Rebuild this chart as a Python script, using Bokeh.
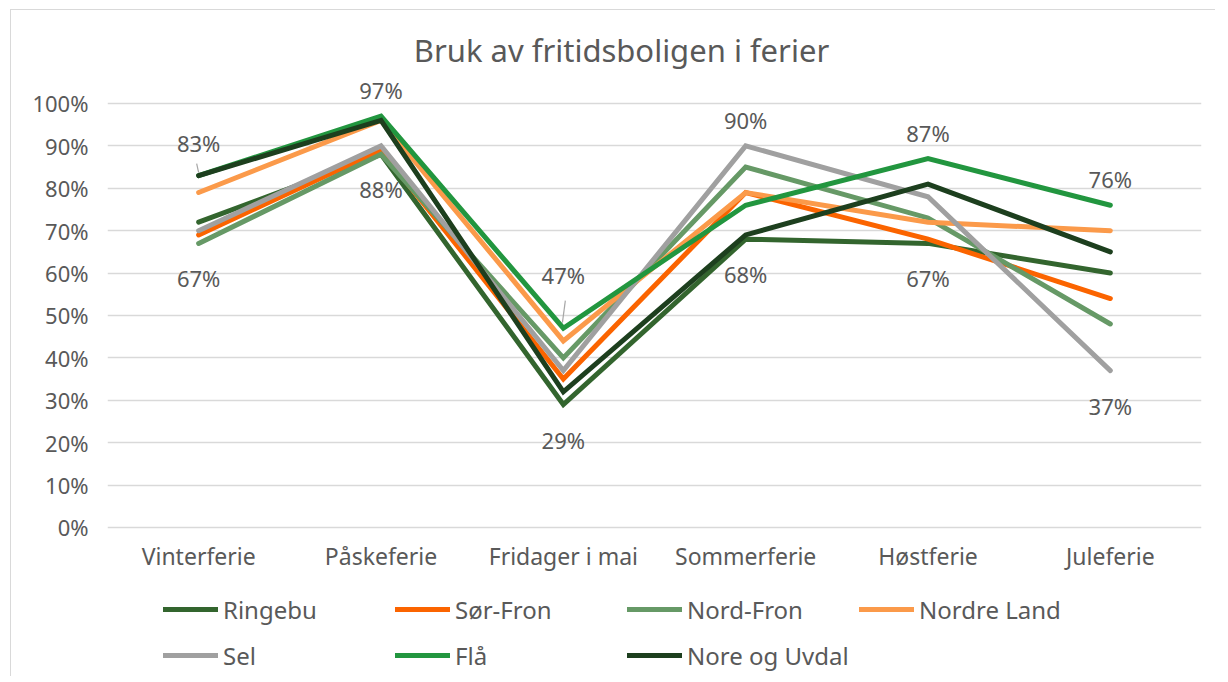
from bokeh.plotting import figure
from bokeh.models import Legend, LegendItem, NumeralTickFormatter, FixedTicker, Range1d, ColumnDataSource
from bokeh.core.properties import value
from bokeh.embed import file_html
from bokeh.resources import INLINE

categories = ["Vinterferie", "Påskeferie", "Fridager i mai", "Sommerferie", "Høstferie", "Juleferie"]

ringebu = [72, 88, 29, 68, 67, 60]
sor_fron = [69, 89, 35, 79, 68, 54]
nord_fron = [67, 88, 40, 85, 73, 48]
nordre_land = [79, 96, 44, 79, 72, 70]
sel = [70, 90, 37, 90, 78, 37]
fla = [83, 97, 47, 76, 87, 76]
nore_og_uvdal = [83, 96, 32, 69, 81, 65]

series_names = ["Ringebu", "Sør-Fron", "Nord-Fron", "Nordre Land", "Sel", "Flå", "Nore og Uvdal"]
series_values = [ringebu, sor_fron, nord_fron, nordre_land, sel, fla, nore_og_uvdal]
series_colors = ["#33652e", "#fb6400", "#669966", "#fb9a4a", "#a0a0a0", "#22963f", "#1d3f1e"]
title_text = "Bruk av fritidsboligen i ferier"

FONT = "Noto Sans"
TXT = "#595959"

# the frame covers the whole chart area (title above 100 %, category labels and
# legend below 0 %) so that nothing is clipped; grid and ticks only span 0..100 %
p = figure(width=1205, height=667, output_backend="svg", toolbar_location=None,
           x_range=Range1d(-0.5, 5.5), y_range=Range1d(-0.3538, 1.2193),
           min_border_left=96, min_border_right=15, min_border_top=0, min_border_bottom=0)
p.margin = (9, 0, 0, 10)
p.styles = {"border-left": "1px solid #d9d9d9", "border-top": "1px solid #d9d9d9"}
p.outline_line_color = None
p.background_fill_color = "white"
p.border_fill_color = "white"

xs = list(range(len(categories)))

p.xaxis.visible = False
p.yaxis.ticker = FixedTicker(ticks=[i / 10 for i in range(11)])
p.yaxis.formatter = NumeralTickFormatter(format="0%")
ax = p.yaxis[0]
ax.axis_line_color = None
ax.major_tick_line_color = None
ax.minor_tick_line_color = None
ax.major_label_text_font = FONT
ax.major_label_text_color = TXT
ax.major_label_text_font_size = "22px"
ax.major_label_standoff = 13
p.xgrid.grid_line_color = None
p.ygrid.grid_line_color = "#d9d9d9"
p.ygrid.grid_line_width = 1.5

# chart title (centred on the whole chart area)
p.text(x=[2.5], y=[1.0], text=[title_text], x_offset=-33, y_offset=-53,
       text_align="center", text_baseline="middle", text_font=value(FONT),
       text_font_size="31px", text_color=TXT)

# category labels under the 0 % line
p.text(x=xs, y=[0] * len(xs), text=categories, y_offset=29, text_align="center",
       text_baseline="middle", text_font=value(FONT), text_font_size="23px", text_color=TXT)

renderers = []
for name, vals, col in zip(series_names, series_values, series_colors):
    r = p.line(xs, [v / 100 for v in vals], line_color=col, line_width=5,
               line_cap="round", line_join="miter")
    renderers.append(r)

# data labels: highest and lowest value at each category
label_style = {"max_offset": -26, "min_offset": 35}
special = {0: -33, 2: -53}   # labels pulled away with a leader line
lx, ly, lt, lo = [], [], [], []
for i in xs:
    col_vals = [s[i] for s in series_values]
    hi, lo_v = max(col_vals), min(col_vals)
    lx += [i, i]
    ly += [hi / 100, lo_v / 100]
    lt += [f"{hi}%", f"{lo_v}%"]
    lo += [special.get(i, label_style["max_offset"]), label_style["min_offset"]]
src = ColumnDataSource(dict(x=lx, y=ly, t=lt, o=lo))
p.text(x="x", y="y", text="t", y_offset="o", source=src, text_align="center",
       text_baseline="middle", text_font=value(FONT), text_font_size="22px", text_color=TXT)

# leader lines for the moved labels
for i, (dx0, dy0, dx1, dy1) in {0: (-0.011, 0.028, 0.0, 0.007), 2: (0.011, 0.065, -0.005, 0.013)}.items():
    hi = max(s[i] for s in series_values) / 100
    p.segment(x0=[i + dx0], y0=[hi + dy0], x1=[i + dx1], y1=[hi + dy1], line_color="#a6a6a6", line_width=1.2)

items = [LegendItem(label=n, renderers=[r]) for n, r in zip(series_names, renderers)]
legend = Legend(items=items, ncols=4, location=(56, 2), orientation="horizontal",
                glyph_width=55, glyph_height=40, label_height=40, label_width=166,
                label_standoff=5, spacing=6, padding=0, margin=0,
                border_line_color=None, background_fill_alpha=0,
                label_text_font=FONT, label_text_font_size="24px", label_text_color=TXT)
p.add_layout(legend, "center")

open("out.html", "w").write(file_html(p, INLINE))
